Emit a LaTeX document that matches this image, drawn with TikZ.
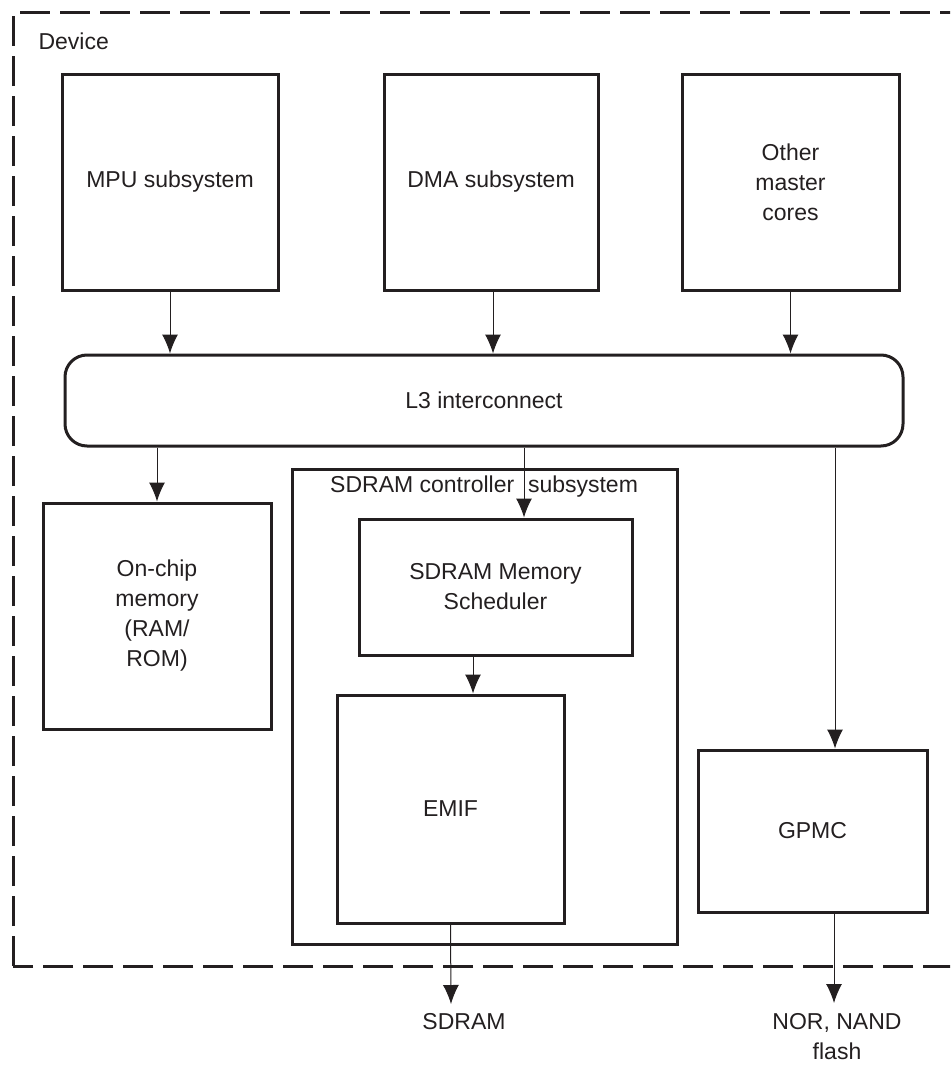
\documentclass[tikz,border=0pt]{standalone}
\usepackage{fontspec}
\setmainfont{Liberation Sans}
\usepackage{tikz}
\usetikzlibrary{arrows.meta}
\definecolor{ink}{RGB}{35,31,32}

\begin{document}
\begin{tikzpicture}[x=1pt,y=-1pt,>={Latex[length=19pt,width=16pt]},
  every node/.style={font=\fontsize{23}{30}\selectfont,text=ink,align=center},
  blk/.style={draw=ink,line width=3pt,inner sep=0pt},
  bus/.style={blk,rounded corners=22pt},
  link/.style={->,draw=ink,line width=1pt}]
\useasboundingbox (0,0) rectangle (950,1065);
\clip (0,0) rectangle (950,1065);
% Device outline (runs off the right edge)
\draw[ink,line width=3pt,dash pattern=on 30pt off 10pt] (13,966) -- (13,13) -- (990,13) -- (990,966) -- cycle;
\node[anchor=west] (devlbl) at (35,41) {Device};

% Masters
\node[blk,minimum width=216pt,minimum height=216pt] (mpu) at (170,182) {MPU subsystem};
\node[blk,minimum width=214pt,minimum height=216pt] (dma) at (491,182) {DMA subsystem};
\node[blk,minimum width=217pt,minimum height=216pt] (oth) at (790.5,182) {Other\\master\\cores};

% Interconnect
\node[bus,minimum width=838pt,minimum height=91pt] (l3) at (484,400.5) {L3 interconnect};

% Slaves
\node[blk,minimum width=228pt,minimum height=226pt] (ocm) at (157,616) {On-chip\\memory\\(RAM/\\ROM)};
\node[blk,minimum width=385pt,minimum height=475pt] (sdc) at (484.5,706.5) {};
\node[anchor=west,inner sep=0pt] (sdclbl) at (330,487) {SDRAM controller\hspace{0.6em}subsystem};
\node[blk,minimum width=273pt,minimum height=136pt] (sch) at (495.5,587) {SDRAM Memory\\Scheduler};
\node[blk,minimum width=227pt,minimum height=228pt] (emif) at (450.5,809) {EMIF};
\node[blk,minimum width=229pt,minimum height=162pt] (gpmc) at (812.5,831) {GPMC};

% Off-chip memories
\coordinate (sdramin) at (451,1004);
\coordinate (flashin) at (834,1003);
\node (sdram) at (464,1022) {SDRAM};
\node (flash) at (837,1037) {NOR, NAND\\flash};

% Connections
\draw[link] (mpu.south) -- (mpu.south |- l3.north);
\draw[link] ([xshift=2pt]dma.south) -- ([xshift=2pt]dma.south |- l3.north);
\draw[link] (oth.south) -- (oth.south |- l3.north);
\draw[link] (l3.south -| ocm.north) -- (ocm.north);
\draw[link] ([xshift=28.5pt]sch.north |- l3.south) -- ([xshift=28.5pt]sch.north);
\draw[link] ([xshift=22.5pt]emif.north |- sch.south) -- ([xshift=22.5pt]emif.north);
\draw[link] ([xshift=22.5pt]gpmc.north |- l3.south) -- ([xshift=22.5pt]gpmc.north);
\draw[link] (emif.south) -- (sdramin);
\draw[link] ([xshift=21.5pt]gpmc.south) -- (flashin);
\end{tikzpicture}
\end{document}
